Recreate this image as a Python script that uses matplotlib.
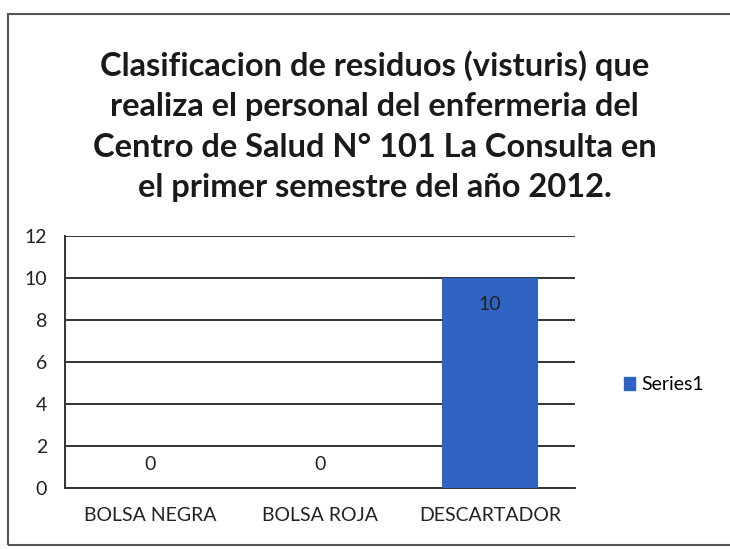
import matplotlib.pyplot as plt
from matplotlib.patches import Rectangle, Patch

categories = ["BOLSA NEGRA", "BOLSA ROJA", "DESCARTADOR"]
values = [0, 0, 10]
series_name = "Series1"
y_ticks = [0, 2, 4, 6, 8, 10, 12]
title = ("Clasificacion de residuos (visturis) que\n"
         "realiza el personal del enfermeria del\n"
         "Centro de Salud N° 101 La Consulta en\n"
         "el primer semestre del año 2012.")

BAR_COLOR = "#2f63c2"
FONT = ["Lato", "DejaVu Sans"]

plt.rcParams["font.family"] = FONT

fig = plt.figure(figsize=(7.3, 5.49), dpi=100)

# outer chart frame (scanned Excel chart border)
fig.patches.append(Rectangle((8 / 730, 4 / 549), 730, 531 / 549, transform=fig.transFigure,
                             fill=False, edgecolor="#555555", linewidth=1.5))

fig.text(0.513, 1 - 126 / 549, title, ha="center", va="center", fontsize=23.5,
         fontweight="bold", linespacing=1.47, color="#1a1a1a")

ax = fig.add_axes([65 / 730, 1 - 488 / 549, 510 / 730, 252 / 549])
x = range(len(categories))
bars = ax.bar(x, values, width=0.57, color=BAR_COLOR, zorder=3)

ax.set_xlim(-0.5, len(categories) - 0.5)
ax.set_ylim(0, 12)
ax.set_yticks(y_ticks)
ax.set_xticks(list(x))
ax.set_xticklabels(categories)
ax.grid(axis="y", color="#333333", linewidth=1.4, zorder=0)
ax.tick_params(axis="both", length=0, labelsize=14, colors="#222222")
ax.tick_params(axis="y", pad=13)
ax.tick_params(axis="x", pad=14)
for side in ["top", "right"]:
    ax.spines[side].set_visible(False)
ax.spines["left"].set_color("#333333")
ax.spines["left"].set_linewidth(1.4)
ax.spines["bottom"].set_color("#333333")
ax.spines["bottom"].set_linewidth(1.4)

for xi, v in zip(x, values):
    if v > 0:
        ax.annotate(str(v), (xi, v), xytext=(0, -19), textcoords="offset points",
                    ha="center", va="center", fontsize=14, color="#222222")
    else:
        ax.annotate(str(v), (xi, v), xytext=(0, 17), textcoords="offset points",
                    ha="center", va="center", fontsize=14, color="#222222")

fig.legend(handles=[Patch(color=BAR_COLOR, label=series_name)],
           loc="center left", bbox_to_anchor=(606 / 730, 1 - 385 / 549),
           frameon=False, fontsize=14, handlelength=0.6, handleheight=0.6,
           handletextpad=0.3)

fig.savefig("out.png", dpi=100)
